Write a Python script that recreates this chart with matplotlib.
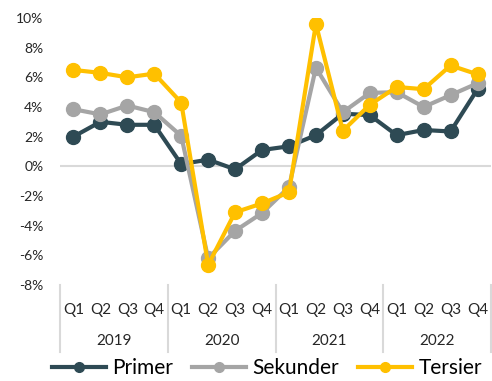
"""
Pertumbuhan sektor Primer / Sekunder / Tersier per kuartal, 2019-2022.

Outputs:
    out.png
"""

import matplotlib.pyplot as plt
from matplotlib.ticker import FuncFormatter

plt.rcParams["font.family"] = ["Lato", "DejaVu Sans"]

# --- Data (% growth) ---
years = ["2019", "2020", "2021", "2022"]
quarters = ["Q1", "Q2", "Q3", "Q4"]

primer = [2.0, 3.0, 2.8, 2.8,
          0.15, 0.45, -0.2, 1.1,
          1.35, 2.1, 3.55, 3.45,
          2.1, 2.45, 2.35, 5.2]
sekunder = [3.85, 3.5, 4.1, 3.65,
            2.05, -6.2, -4.35, -3.15,
            -1.4, 6.65, 3.65, 4.95,
            5.0, 4.0, 4.8, 5.6]
tersier = [6.5, 6.3, 6.0, 6.25,
           4.3, -6.65, -3.1, -2.5,
           -1.75, 9.6, 2.4, 4.15,
           5.35, 5.2, 6.8, 6.2]

series = [
    ("Primer", primer, "#2E4A54"),
    ("Sekunder", sekunder, "#A5A5A5"),
    ("Tersier", tersier, "#FFC000"),
]


def main() -> None:
    fig = plt.figure(figsize=(4.92, 3.81), dpi=100)
    ax = fig.add_axes([60 / 492, 1 - 285 / 381, 431 / 492, 267 / 381])

    n = len(years) * len(quarters)
    x = list(range(n))

    # zero line
    ax.axhline(0, color="#D9D9D9", linewidth=1.5, zorder=1)

    for name, vals, color in series:
        ax.plot(x, vals, color=color, linewidth=3, marker="o",
                markersize=10, label=name, zorder=3)

    ax.set_xlim(-0.5, n - 0.5)
    ax.set_ylim(-8, 10)
    ax.set_yticks(range(-8, 11, 2))
    ax.yaxis.set_major_formatter(FuncFormatter(lambda v, _: f"{v:.0f}%"))
    ax.tick_params(axis="y", length=0, labelsize=10, colors="#262626", pad=12)

    ax.set_xticks(x)
    ax.set_xticklabels(quarters * len(years))
    ax.tick_params(axis="x", length=0, labelsize=11, colors="#262626", pad=13)

    for side in ["top", "right", "left", "bottom"]:
        ax.spines[side].set_visible(False)

    # year group separators + labels below the axis
    trans = ax.get_xaxis_transform()
    sep_depth = -(352 - 285) / 267
    for k in range(len(years) + 1):
        xs = k * len(quarters) - 0.5
        ax.plot([xs, xs], [0, sep_depth], color="#D9D9D9", linewidth=1.5,
                transform=trans, clip_on=False)
    for k, yr in enumerate(years):
        xc = k * len(quarters) + 1.5
        ax.text(xc, -(341 - 285) / 267, yr, transform=trans, ha="center",
                va="center", fontsize=11, color="#262626")

    fig.legend(loc="center", bbox_to_anchor=(267 / 492, 1 - 368 / 381),
               ncol=3, frameon=False, fontsize=15, handlelength=2.6,
               markerscale=0.7, columnspacing=0.9, handletextpad=0.3,
               borderaxespad=0)

    fig.savefig("out.png", dpi=100)
    plt.close(fig)


if __name__ == "__main__":
    main()
